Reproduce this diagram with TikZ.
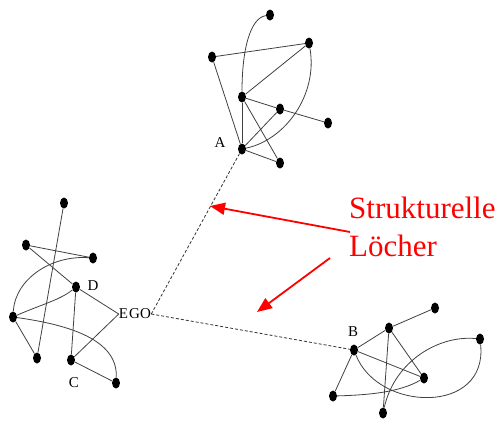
\documentclass[tikz,border=0pt]{standalone}
\usepackage{fontspec}
\setmainfont{Liberation Serif}
\usetikzlibrary{arrows.meta,shapes.geometric}
\begin{document}
\begin{tikzpicture}[x=1pt,y=-1pt,
  dot/.style={ellipse,fill=black,minimum width=8pt,minimum height=11pt,inner sep=0pt},
  edge/.style={draw=black!75,line width=0.8pt},
  hole/.style={draw=black!80,line width=0.8pt,dash pattern=on 3pt off 2pt},
  lbl/.style={font=\fontsize{15}{15}\selectfont,inner sep=0pt},
  redtxt/.style={text=red,font=\fontsize{31}{31}\selectfont,inner sep=0pt,anchor=base west},
  redarrow/.style={draw=red,line width=1.8pt,-{Triangle[length=15pt,width=12pt]}}]
\useasboundingbox (0,0) rectangle (500,421);
% cluster A
\node[dot] (a1) at (270,15) {};
\node[dot] (a2) at (212,57) {};
\node[dot] (a3) at (309,43) {};
\node[dot] (a4) at (242,97) {};
\node[dot] (a5) at (280,109) {};
\node[dot] (a6) at (328,123) {};
\node[dot] (A) at (242,149) {};
\node[dot] (a7) at (280,163) {};
\node[lbl] (lA) at (220,143) {A};
\draw[edge] (a1) .. controls (250,18) and (242,50) .. (a4);
\draw[edge] (a2) -- (a3);
\draw[edge] (a2) -- (A);
\draw[edge] (a3) -- (a4);
\draw[edge] (a3) .. controls (318,95) and (285,140) .. (A);
\draw[edge] (a4) -- (A);
\draw[edge] (a4) -- (a5);
\draw[edge] (a5) -- (a6);
\draw[edge] (a4) -- (a7);
\draw[edge] (A) -- (a5);
\draw[edge] (A) -- (a7);
% cluster EGO
\node[dot] (e1) at (64,203) {};
\node[dot] (e2) at (26,245) {};
\node[dot] (e3) at (93,258) {};
\node[dot] (D) at (76,287) {};
\node[dot] (e5) at (13,317) {};
\node[dot] (e6) at (37,358) {};
\node[dot] (C) at (71,360) {};
\node[dot] (e8) at (116,383) {};
\node[lbl] (lD) at (93,286) {D};
\node[lbl] (lC) at (74,383) {C};
\node[lbl] (ego) at (135,314) {E\kern1pt G\kern0.3pt O};
\draw[edge] (e1) -- (e6);
\draw[edge] (e2) -- (e3);
\draw[edge] (e2) -- (D);
\draw[edge] (e3) .. controls (50,255) and (15,280) .. (e5);
\draw[edge] (e5) .. controls (40,305) and (60,300) .. (D);
\draw[edge] (e5) -- (e6);
\draw[edge] (e5) .. controls (70,325) and (118,340) .. (e8);
\draw[edge] (D) -- (C);
\draw[edge] (D) -- (ego.west);
\draw[edge] (C) -- (ego.west);
\draw[edge] (C) -- (e8);
% cluster B
\node[dot] (b1) at (435,308) {};
\node[dot] (b2) at (389,328) {};
\node[dot] (B) at (354,350) {};
\node[dot] (b4) at (480,339) {};
\node[dot] (b5) at (424,378) {};
\node[dot] (b6) at (333,396) {};
\node[dot] (b7) at (383,413) {};
\node[lbl] (lB) at (353,332) {B};
\draw[edge] (b2) -- (b1);
\draw[edge] (B) -- (b2);
\draw[edge] (b2) -- (b7);
\draw[edge] (b2) -- (b5);
\draw[edge] (B) -- (b5);
\draw[edge] (B) -- (b6);
\draw[edge] (b6) .. controls (370,395) and (400,392) .. (b5);
\draw[edge] (B) .. controls (378,412) and (488,415) .. (b4);
\draw[edge] (b7) .. controls (395,360) and (440,335) .. (b4);
% structural holes
\draw[hole] (ego.east) -- (A);
\draw[hole] (ego.east) -- (B);
% red annotation
\node[redtxt] (strk) at (349,218) {Strukturelle};
\node[redtxt] (loch) at (349,256) {Löcher};
\coordinate (s1) at (350,232);
\coordinate (t1) at (210,206);
\coordinate (s2) at (330,258);
\coordinate (t2) at (257,312);
\draw[redarrow] (s1) -- (t1);
\draw[redarrow] (s2) -- (t2);
\end{tikzpicture}
\end{document}
